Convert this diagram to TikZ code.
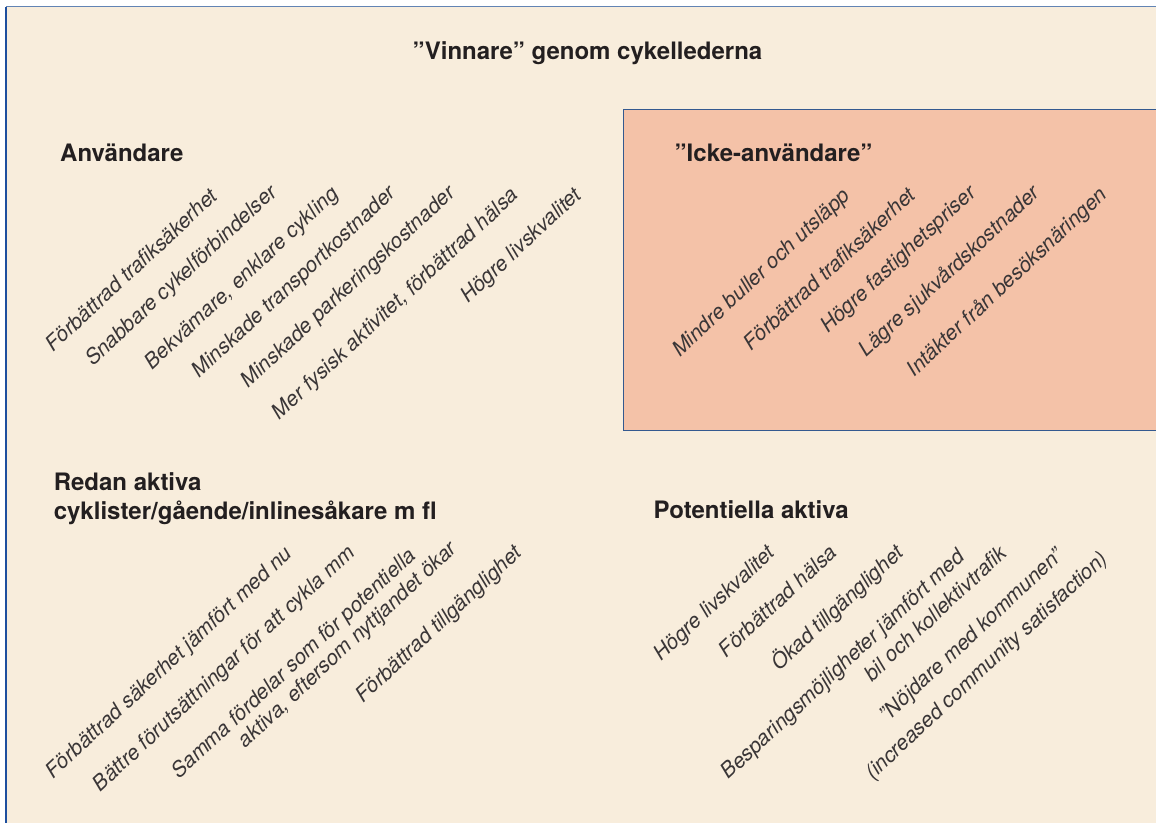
\documentclass[tikz,border=0pt]{standalone}
\usepackage{fontspec}
\setmainfont{TeX Gyre Heros}
\definecolor{bgcol}{HTML}{F8EDDC}
\definecolor{boxcol}{HTML}{F4C2A8}
\definecolor{framel}{HTML}{1E4F9E}
\definecolor{framet}{HTML}{6284B4}
\definecolor{boxline}{HTML}{34598F}
\definecolor{txt}{HTML}{231F20}
\definecolor{txtl}{HTML}{3A3637}
\begin{document}
\begin{tikzpicture}[x=1pt,y=-1pt,
  head/.style={font=\fontsize{24}{29}\selectfont\bfseries, text=txt, inner sep=0pt, anchor=base west},
  item/.style={font=\fontsize{21}{25}\selectfont\itshape, text=txtl, inner sep=0pt, rotate=43, anchor=base east}]
\useasboundingbox (0,0) rectangle (1156,823);
\fill[white] (0,0) rectangle (1156,823);
\fill[bgcol] (6,6.5) rectangle (1156,823);
\fill[boxcol] (623.5,109.5) rectangle (1156,430.5);
\draw[boxline, line width=1.3pt] (1156,109.5) -- (623.5,109.5) -- (623.5,430.5) -- (1156,430.5);
\draw[framel, line width=1.6pt] (6,6.5) -- (6,823);
\draw[framet, line width=1.6pt] (6,6.5) -- (1156,6.5);

\node[head, anchor=base] (title) at (587.5,59.3) {”Vinnare” genom cykellederna};

\node[head] (hA) at (60,161.7) {Användare};
\node[head] (hB) at (674.5,161.7) {”Icke-användare”};
\node[head] (hC1) at (53.6,490) {Redan aktiva};
\node[head] (hC2) at (53.6,519) {cyklister/gående/inlinesåkare m fl};
\node[head] (hD) at (653.5,518.3) {Potentiella aktiva};

% Användare
\node[item] (a1) at (219.2,198.0) {Förbättrad trafiksäkerhet};
\node[item] (a2) at (278.4,194.1) {Snabbare cykelförbindelser};
\node[item] (a3) at (339.7,195.7) {Bekvämare, enklare cykling};
\node[item] (a4) at (397,194.7) {Minskade transportkostnader};
\node[item] (a5) at (456.4,194.7) {Minskade parkeringskostnader};
\node[item] (a6) at (519.5,196.7) {Mer fysisk aktivitet, förbättrad hälsa};
\node[item] (a7) at (582.7,197) {Högre livskvalitet};

% Icke-användare
\node[item] (b1) at (851.4,197.4) {Mindre buller och utsläpp};
\node[item] (b2) at (917.2,197) {Förbättrad trafiksäkerhet};
\node[item] (b3) at (977.3,194.7) {Högre fastighetspriser};
\node[item] (b4) at (1041.1,194.7) {Lägre sjukvårdskostnader};
\node[item] (b5) at (1108.5,196.7) {Intäkter från besöksnäringen};

% Redan aktiva
\node[item] (c1) at (293.4,555.7) {Förbättrad säkerhet jämfört med nu};
\node[item] (c2) at (356.3,554.1) {Bättre förutsättningar för att cykla mm};
\node[item] (c3a) at (417.4,557.4) {Samma fördelar som för potentiella};
\node[item] (c3b) at (458,550.7) {aktiva, eftersom nyttjandet ökar};
\node[item] (c4) at (522.9,554.7) {Förbättrad tillgänglighet};

% Potentiella aktiva
\node[item] (d1) at (776.1,554.7) {Högre livskvalitet};
\node[item] (d2) at (838.4,554.1) {Förbättrad hälsa};
\node[item] (d3) at (904.7,554.7) {Ökad tillgänglighet};
\node[item] (d4a) at (966,558.7) {Besparingsmöjligheter jämfört med};
\node[item] (d4b) at (1008.2,555.4) {bil och kollektivtrafik};
\node[item] (d5a) at (1065.1,557.1) {”Nöjdare med kommunen”};
\node[item] (d5b) at (1109.2,560.4) {(increased community satisfaction)};
\end{tikzpicture}
\end{document}
